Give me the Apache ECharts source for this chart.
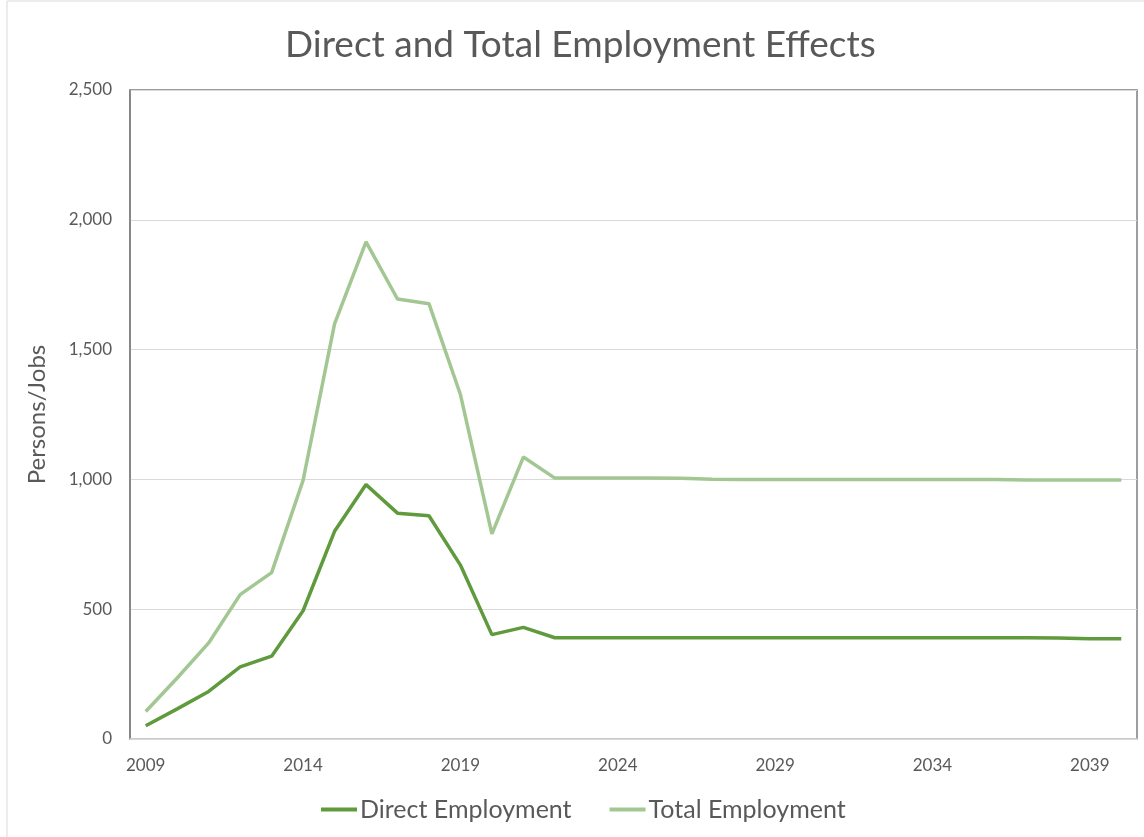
<!DOCTYPE html>
<html>
<head>
<meta charset="utf-8">
<script src="https://cdn.jsdelivr.net/npm/echarts@6/dist/echarts.min.js"></script>
<style>
html,body{margin:0;padding:0;background:#fff;}
#chart{width:1144px;height:837px;}
</style>
</head>
<body>
<div id="chart"></div>
<script>
const years = ['2009','2010','2011','2012','2013','2014','2015','2016','2017','2018','2019','2020','2021','2022','2023','2024','2025','2026','2027','2028','2029','2030','2031','2032','2033','2034','2035','2036','2037','2038','2039','2040'];
const directEmployment = [51,116,183,278,319,494,800,980,870,860,670,402,430,390,390,390,390,390,390,390,390,390,390,390,390,390,390,390,390,389,386,386];
const totalEmployment = [106,235,370,556,641,996,1599,1915,1695,1677,1327,790,1086,1005,1005,1005,1005,1004,1001,1000,1000,1000,1000,1000,1000,1000,1000,1000,998,998,998,998];
const seriesNames = ['Direct Employment','Total Employment'];
const titleText = 'Direct and Total Employment Effects';
const yAxisName = 'Persons/Jobs';

const FONT = 'Lato';
const chart = echarts.init(document.getElementById('chart'), null, {renderer:'canvas'});
chart.setOption({
  animation:false,
  backgroundColor:'#ffffff',
  graphic:[{type:'rect',shape:{x:7,y:1,width:1200,height:900},style:{fill:'none',stroke:'#d9d9d9',lineWidth:1},silent:true,z:-10}],
  title:{text:titleText,left:285,top:22,padding:[5,0,5,0],textStyle:{fontFamily:FONT,fontSize:37,fontWeight:'normal',color:'#595959'}},
  legend:{data:seriesNames,bottom:10,left:321,padding:[5,0,5,0],itemWidth:36,itemHeight:4,itemGap:38,icon:'rect',
    textStyle:{fontFamily:FONT,fontSize:25,color:'#595959',padding:[0,0,0,-2]}},
  grid:{left:130,right:7,top:90,bottom:98,show:true,borderColor:'#7f7f7f',borderWidth:1.5,containLabel:false},
  xAxis:{type:'category',data:years,boundaryGap:true,
    axisLine:{show:true,lineStyle:{color:'#d9d9d9',width:1.5}},
    axisTick:{show:false},
    axisLabel:{interval:4,fontFamily:FONT,fontSize:17,color:'#595959',margin:18}},
  yAxis:{type:'value',min:0,max:2500,interval:500,name:yAxisName,nameLocation:'middle',nameGap:81,
    nameTextStyle:{fontFamily:FONT,fontSize:24,color:'#595959'},
    axisLine:{show:true,lineStyle:{color:'#7f7f7f',width:1.5}},
    axisTick:{show:false},
    splitLine:{lineStyle:{color:'#d9d9d9',width:1.2}},
    axisLabel:{fontFamily:FONT,fontSize:17,color:'#595959',margin:18,
      formatter:v=>v.toLocaleString('en-US')}},
  series:[
    {name:seriesNames[0],type:'line',data:directEmployment,symbol:'none',lineStyle:{width:3.5,color:'#5f9a3c'},itemStyle:{color:'#5f9a3c'},z:3},
    {name:seriesNames[1],type:'line',data:totalEmployment,symbol:'none',lineStyle:{width:3.5,color:'#a3c793'},itemStyle:{color:'#a3c793'},z:2}
  ]
});
</script>
</body>
</html>
